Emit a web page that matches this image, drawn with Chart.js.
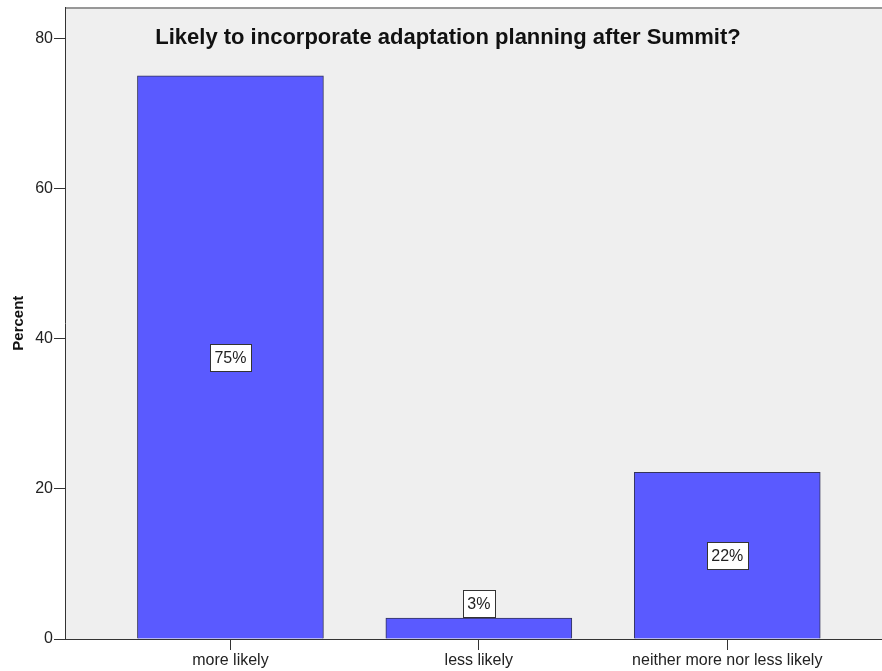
<!DOCTYPE html>
<html>
<head>
<meta charset="utf-8">
<script src="https://cdn.jsdelivr.net/npm/chart.js@4.4.1/dist/chart.umd.min.js"></script>
<style>
    body { margin: 0; background: #ffffff; }
    #wrap { width: 882px; height: 671px; }
</style>
</head>
<body>
<div id="wrap"><canvas id="likelyChart" width="882" height="671"></canvas></div>
<script>
//################# Chart data #################
const chartTitle = 'Likely to incorporate adaptation planning after Summit?';
const categories = ['more likely', 'less likely', 'neither more nor less likely'];
const percentValues = [75.0, 2.8, 22.2];
const yTicks = [0, 20, 40, 60, 80];

const fontFamily = '"Liberation Sans", Arial, sans-serif';

//################# Plugin: grey plot area, title and value boxes #################
const spssLook = {
    id: 'spssLook',
    beforeDraw(chart) {
        const { ctx, chartArea } = chart;
        ctx.save();
        ctx.fillStyle = '#efefef';
        ctx.fillRect(chartArea.left, chartArea.top, chartArea.right - chartArea.left, chartArea.bottom - chartArea.top);
        ctx.strokeStyle = '#7a7a7a';
        ctx.lineWidth = 1.5;
        ctx.beginPath();
        ctx.moveTo(chartArea.left, chartArea.top + 0.5);
        ctx.lineTo(chartArea.right, chartArea.top + 0.5);
        ctx.stroke();

        // title sits inside the plot area
        ctx.fillStyle = '#111';
        ctx.font = 'bold 22px ' + fontFamily;
        ctx.textAlign = 'center';
        ctx.textBaseline = 'alphabetic';
        ctx.fillText(chartTitle, 448, 44);
        ctx.restore();
    },
    afterDatasetsDraw(chart) {
        const { ctx } = chart;
        const meta = chart.getDatasetMeta(0);
        ctx.save();
        ctx.font = '16px ' + fontFamily;
        ctx.textAlign = 'center';
        ctx.textBaseline = 'middle';
        meta.data.forEach((bar, i) => {
            const text = Math.round(percentValues[i]) + '%';
            const w = Math.round(ctx.measureText(text).width + 9);
            const h = 27;
            const barH = bar.base - bar.y;
            let cy;
            if (barH > h + 4) {
                cy = (bar.y + bar.base) / 2;
            } else {
                cy = bar.y - 1 - h / 2;
            }
            const x0 = Math.round(bar.x - w / 2) + 0.5;
            const y0 = Math.round(cy - h / 2) + 0.5;
            ctx.fillStyle = '#ffffff';
            ctx.fillRect(x0, y0, w, h);
            ctx.strokeStyle = '#333';
            ctx.lineWidth = 1;
            ctx.strokeRect(x0, y0, w, h);
            ctx.fillStyle = '#222';
            ctx.fillText(text, bar.x, cy + 1);
        });
        ctx.restore();
    }
};

//################# Create the chart #################
const likelyChart = new Chart(document.getElementById('likelyChart'), {
    type: 'bar',
    data: {
        datasets: [
            {
                label: 'Percent',
                data: percentValues.map((v, i) => ({ x: i, y: v })),
                backgroundColor: '#5a5aff',
                borderColor: '#34345a',
                borderWidth: 1,
                barThickness: 186,
            },
        ],
    },
    options: {
        responsive: false,
        animation: false,
        layout: { padding: { top: 7, right: 0, bottom: 0, left: 0 } },
        plugins: {
            legend: { display: false },
            tooltip: { enabled: false },
        },
        scales: {
            x: {
                type: 'linear',
                min: -0.666,
                max: 2.623,
                offset: false,
                afterBuildTicks: (scale) => {
                    scale.ticks = categories.map((c, i) => ({ value: i }));
                },
                afterFit: (scale) => { scale.height = 32; },
                ticks: {
                    autoSkip: false,
                    maxRotation: 0,
                    padding: 1,
                    color: '#222',
                    font: { family: fontFamily, size: 16 },
                    callback: (value) => categories[value],
                },
                grid: {
                    offset: false,
                    drawOnChartArea: false,
                    tickLength: 11,
                    color: '#333',
                },
                border: { display: true, color: '#333', width: 1 },
            },
            y: {
                min: 0,
                max: 84.13,
                afterBuildTicks: (scale) => {
                    scale.ticks = yTicks.map(v => ({ value: v }));
                },
                afterFit: (scale) => { scale.width = 65; },
                ticks: {
                    padding: 1,
                    color: '#222',
                    font: { family: fontFamily, size: 16, lineHeight: 0.8 },
                },
                grid: {
                    drawOnChartArea: false,
                    tickLength: 11,
                    color: '#333',
                },
                border: { display: true, color: '#333', width: 1 },
                title: {
                    display: true,
                    text: 'Percent',
                    color: '#111',
                    padding: { top: 10, bottom: 0 },
                    font: { family: fontFamily, size: 15, weight: 'bold' },
                },
            },
        },
    },
    plugins: [spssLook],
});
</script>
</body>
</html>
